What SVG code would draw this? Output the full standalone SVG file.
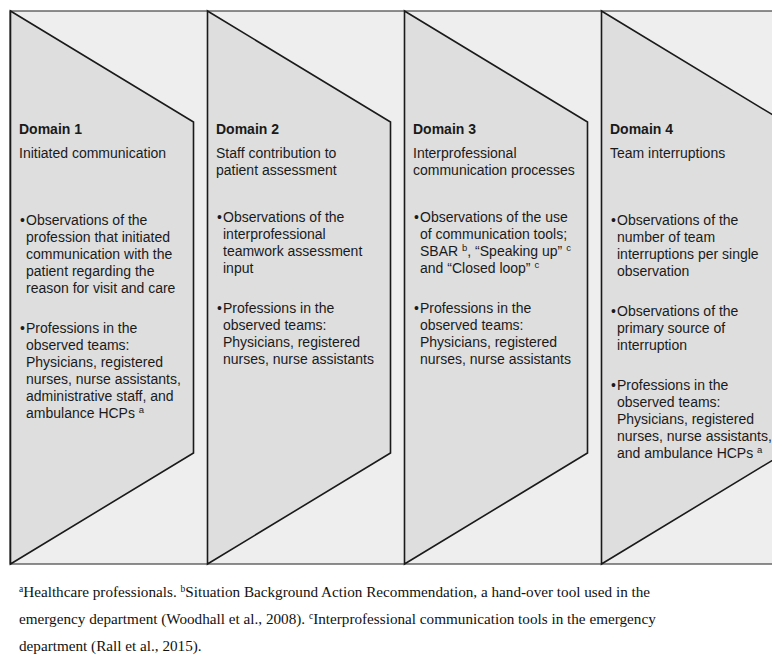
<svg xmlns="http://www.w3.org/2000/svg" width="772" height="656" viewBox="0 0 772 656">
<style>
.bg{fill:#eeeeee;stroke:#444;stroke-width:1.2}
.shape{fill:#dedede;stroke:#1a1a1a;stroke-width:1.6;stroke-linejoin:miter}
.t{font-family:"Liberation Sans",Arial,sans-serif;font-size:14px;fill:#1a1a1a}
.b{font-weight:bold}
.fn{font-family:"Liberation Serif","Times New Roman",serif;font-size:15.2px;fill:#111}
.sup{font-size:9.5px}
</style>
<rect class="bg" x="10" y="11" width="775" height="553"/>
<g id="domain1">
<polygon class="shape" points="10.5,11 193.5,122 193.5,453 10.5,564"/>
<text class="t b" x="19" y="134">Domain 1</text>
<text class="t" x="19" y="157.5">Initiated communication</text>
<text class="t" x="20" y="225">•</text>
<text class="t" x="26" y="225">Observations of the</text>
<text class="t" x="26" y="242">profession that initiated</text>
<text class="t" x="26" y="259">communication with the</text>
<text class="t" x="26" y="276">patient regarding the</text>
<text class="t" x="26" y="293">reason for visit and care</text>
<text class="t" x="20" y="333">•</text>
<text class="t" x="26" y="333">Professions in the</text>
<text class="t" x="26" y="350">observed teams:</text>
<text class="t" x="26" y="367">Physicians, registered</text>
<text class="t" x="26" y="384">nurses, nurse assistants,</text>
<text class="t" x="26" y="401">administrative staff, and</text>
<text class="t" x="26" y="418">ambulance HCPs <tspan class="sup" dy="-5">a</tspan></text>
</g>
<g id="domain2">
<polygon class="shape" points="207.5,11 390.5,122 390.5,453 207.5,564"/>
<text class="t b" x="216" y="134">Domain 2</text>
<text class="t" x="216" y="157.5">Staff contribution to</text>
<text class="t" x="216" y="174.5">patient assessment</text>
<text class="t" x="217" y="222">•</text>
<text class="t" x="223" y="222">Observations of the</text>
<text class="t" x="223" y="239">interprofessional</text>
<text class="t" x="223" y="256">teamwork assessment</text>
<text class="t" x="223" y="273">input</text>
<text class="t" x="217" y="313">•</text>
<text class="t" x="223" y="313">Professions in the</text>
<text class="t" x="223" y="330">observed teams:</text>
<text class="t" x="223" y="347">Physicians, registered</text>
<text class="t" x="223" y="364">nurses, nurse assistants</text>
</g>
<g id="domain3">
<polygon class="shape" points="404.5,11 587.5,122 587.5,453 404.5,564"/>
<text class="t b" x="413" y="134">Domain 3</text>
<text class="t" x="413" y="157.5">Interprofessional</text>
<text class="t" x="413" y="174.5">communication processes</text>
<text class="t" x="414" y="222">•</text>
<text class="t" x="420" y="222">Observations of the use</text>
<text class="t" x="420" y="239">of communication tools;</text>
<text class="t" x="420" y="256">SBAR <tspan class="sup" dy="-5">b</tspan><tspan dy="5">, “Speaking up” </tspan><tspan class="sup" dy="-5">c</tspan></text>
<text class="t" x="420" y="273">and “Closed loop” <tspan class="sup" dy="-5">c</tspan></text>
<text class="t" x="414" y="313">•</text>
<text class="t" x="420" y="313">Professions in the</text>
<text class="t" x="420" y="330">observed teams:</text>
<text class="t" x="420" y="347">Physicians, registered</text>
<text class="t" x="420" y="364">nurses, nurse assistants</text>
</g>
<g id="domain4">
<polygon class="shape" points="601.5,11 784.5,122 784.5,453 601.5,564"/>
<text class="t b" x="610" y="134">Domain 4</text>
<text class="t" x="610" y="157.5">Team interruptions</text>
<text class="t" x="611" y="225">•</text>
<text class="t" x="617" y="225">Observations of the</text>
<text class="t" x="617" y="242">number of team</text>
<text class="t" x="617" y="259">interruptions per single</text>
<text class="t" x="617" y="276">observation</text>
<text class="t" x="611" y="316">•</text>
<text class="t" x="617" y="316">Observations of the</text>
<text class="t" x="617" y="333">primary source of</text>
<text class="t" x="617" y="350">interruption</text>
<text class="t" x="611" y="390">•</text>
<text class="t" x="617" y="390">Professions in the</text>
<text class="t" x="617" y="407">observed teams:</text>
<text class="t" x="617" y="424">Physicians, registered</text>
<text class="t" x="617" y="441">nurses, nurse assistants,</text>
<text class="t" x="617" y="458">and ambulance HCPs <tspan class="sup" dy="-5">a</tspan></text>
</g>
<g id="connectors"/>
<g id="footnote">
<text class="fn" x="19" y="597"><tspan class="sup" dy="-5">a</tspan><tspan dy="5">Healthcare professionals. </tspan><tspan class="sup" dy="-5">b</tspan><tspan dy="5">Situation Background Action Recommendation, a hand-over tool used in the</tspan></text>
<text class="fn" x="19" y="624">emergency department (Woodhall et al., 2008). <tspan class="sup" dy="-5">c</tspan><tspan dy="5">Interprofessional communication tools in the emergency</tspan></text>
<text class="fn" x="19" y="651">department (Rall et al., 2015).</text>
</g>
</svg>
